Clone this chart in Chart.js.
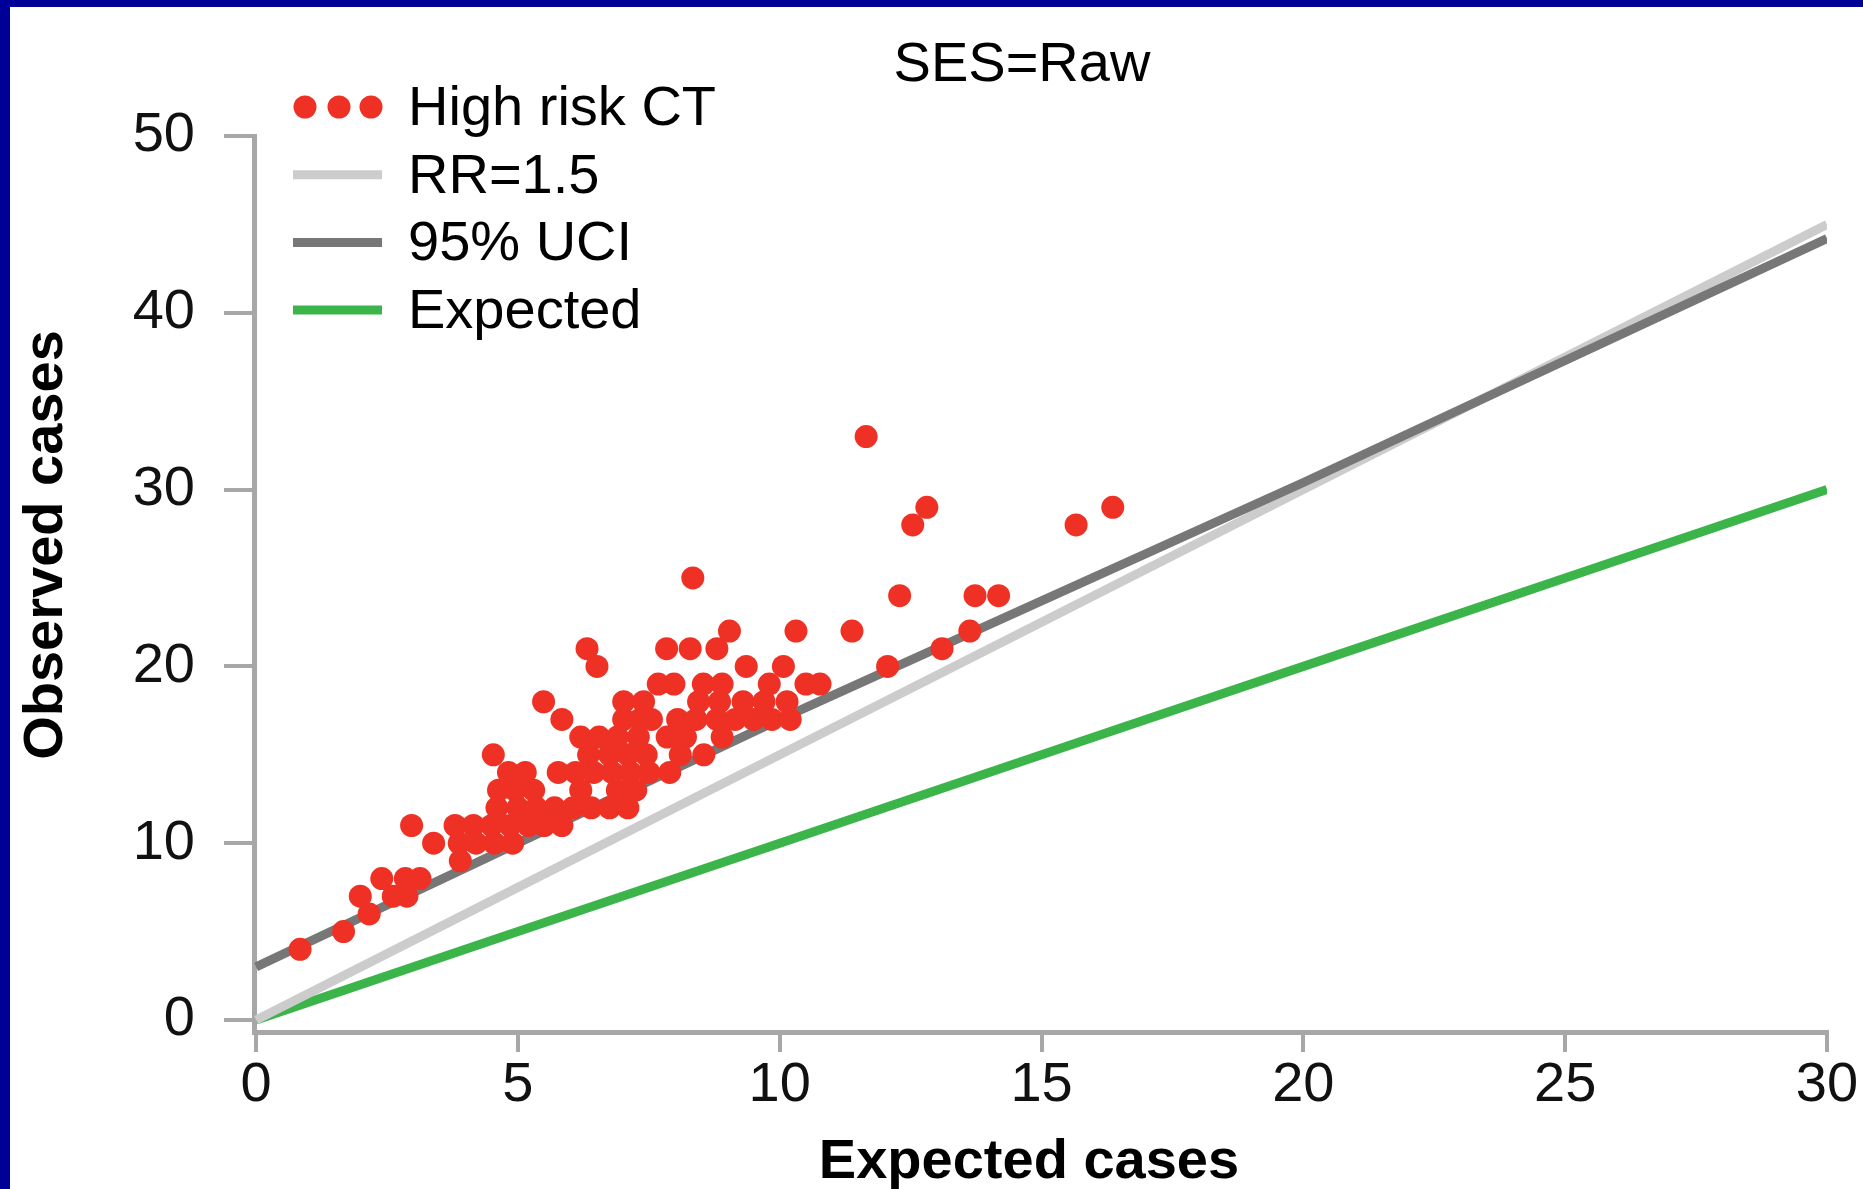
<!DOCTYPE html>
<html>
<head>
<meta charset="utf-8">
<title>SES=Raw</title>
<script src="https://cdn.jsdelivr.net/npm/chart.js@4.4.0/dist/chart.umd.min.js"></script>
<style>
  html, body { margin: 0; padding: 0; background: #000099; overflow: hidden; }
  #frame { position: absolute; left: 10px; top: 7px; width: 1853px; height: 1182px; background: #ffffff; }
</style>
</head>
<body>
<div id="frame"><canvas id="SesChart" width="1853" height="1182"></canvas></div>
<script>
// Tick labels of both axes
const xTicks = [0, 5, 10, 15, 20, 25, 30];
const yTicks = [0, 10, 20, 30, 40, 50];

// High risk census tracts, expected cases (x) and observed cases (y), one row of the plot per line
const highRiskExpected = [
  0.84,
  1.67,
  2.16,
  1.99, 2.62, 2.88,
  2.40, 2.85, 3.13,
  3.90,
  3.39, 3.88, 4.20, 4.55, 4.90,
  2.97, 3.80, 4.15, 4.50, 4.85, 5.20, 5.50, 5.84,
  4.60, 5.00, 5.35, 5.70, 6.05, 6.40, 6.75, 7.10,
  4.63, 4.95, 5.30, 6.20, 6.90, 7.25,
  4.82, 5.14, 5.77, 6.10, 6.45, 6.80, 7.15, 7.50, 7.90,
  4.53, 6.35, 6.75, 7.10, 7.45, 8.10, 8.55,
  6.20, 6.55, 6.90, 7.30, 7.85, 8.20, 8.90,
  5.84, 7.02, 7.33, 7.55, 8.05, 8.40, 8.80, 9.15, 9.50, 9.85, 10.20,
  5.49, 7.02, 7.40, 8.45, 8.85, 9.30, 9.70, 10.14,
  7.68, 7.98, 8.54, 8.90, 9.80, 10.50, 10.77,
  6.51, 9.36, 10.07, 12.06,
  6.32, 7.84, 8.29, 8.80, 13.10,
  9.04, 10.31, 11.38, 13.63,
  12.29, 13.73, 14.18,
  8.34,
  12.54, 15.66,
  12.81, 16.36,
  11.65
];
const highRiskObserved = [
  4,
  5,
  6,
  7, 7, 7,
  8, 8, 8,
  9,
  10, 10, 10, 10, 10,
  11, 11, 11, 11, 11, 11, 11, 11,
  12, 12, 12, 12, 12, 12, 12, 12,
  13, 13, 13, 13, 13, 13,
  14, 14, 14, 14, 14, 14, 14, 14, 14,
  15, 15, 15, 15, 15, 15, 15,
  16, 16, 16, 16, 16, 16, 16,
  17, 17, 17, 17, 17, 17, 17, 17, 17, 17, 17,
  18, 18, 18, 18, 18, 18, 18, 18,
  19, 19, 19, 19, 19, 19, 19,
  20, 20, 20, 20,
  21, 21, 21, 21, 21,
  22, 22, 22, 22,
  24, 24, 24,
  25,
  28, 28,
  29, 29,
  33
];

// Reference lines, read at the same expected values
const lineExpected = [0, 5, 10, 15, 20, 25, 30];
const rrValues = [0, 7.5, 15, 22.5, 30, 37.5, 45];
const uciValues = [3.0, 10.0, 17.0, 23.7, 30.4, 37.3, 44.2];
const expectedValues = [0, 5, 10, 15, 20, 25, 30];

// Legend entries in the order of the picture
const legendLabels = ["High risk CT", "RR=1.5", "95% UCI", "Expected"];

const colRed = "#ee3124";
const colLight = "#cccccc";
const colDark = "#777777";
const colGreen = "#3bb54a";
const colAxis = "#a7a7a7";
const fontFamily = '"Liberation Sans", Arial, Helvetica, sans-serif';

// Turns two arrays into the {x, y} points that Chart.js wants
function to_points(xs, ys) {
  return xs.map((x, i) => ({ x: x, y: ys[i] }));
}

// This plugin writes the title, the axis titles and the legend
const textPlugin = {
  id: "sesText",
  afterDraw(chart) {
    const ctx = chart.ctx;
    ctx.save();
    ctx.fillStyle = "#000000";
    ctx.textBaseline = "alphabetic";
    // The title of the panel
    ctx.font = "56px " + fontFamily;
    ctx.textAlign = "center";
    ctx.fillText("SES=Raw", 1012, 74);
    // The axis titles
    ctx.font = "bold 56px " + fontFamily;
    ctx.fillText("Expected cases", 1019, 1171);
    ctx.save();
    ctx.translate(52, 538);
    ctx.rotate(-Math.PI / 2);
    ctx.fillText("Observed cases", 0, 0);
    ctx.restore();
    // The legend at the top left
    const colors = [colRed, colLight, colDark, colGreen];
    ctx.font = "56px " + fontFamily;
    ctx.textAlign = "left";
    legendLabels.forEach((label, i) => {
      const base = 118 + i * 67.7;
      const mid = base - 18;
      if (i === 0) {
        // three dots for the points
        ctx.fillStyle = colRed;
        [295, 329, 361].forEach(cx => {
          ctx.beginPath();
          ctx.arc(cx, mid, 11.5, 0, Math.PI * 2);
          ctx.fill();
        });
      } else {
        ctx.strokeStyle = colors[i];
        ctx.lineWidth = 9;
        ctx.beginPath();
        ctx.moveTo(283, mid);
        ctx.lineTo(372, mid);
        ctx.stroke();
      }
      ctx.fillStyle = "#000000";
      ctx.fillText(label, 398, base);
    });
    ctx.restore();
  }
};

const contex = document.getElementById("SesChart").getContext("2d");
const chartSes = new Chart(contex, {
  type: "scatter",
  data: {
    datasets: [
      {
        // the points are drawn on top of the lines
        label: legendLabels[0],
        data: to_points(highRiskExpected, highRiskObserved),
        backgroundColor: colRed,
        borderWidth: 0,
        pointRadius: 11.5,
        pointHoverRadius: 11.5
      },
      {
        label: legendLabels[2],
        data: to_points(lineExpected, uciValues),
        showLine: true,
        borderColor: colDark,
        borderWidth: 9,
        pointRadius: 0
      },
      {
        label: legendLabels[1],
        data: to_points(lineExpected, rrValues),
        showLine: true,
        borderColor: colLight,
        borderWidth: 9,
        pointRadius: 0
      },
      {
        label: legendLabels[3],
        data: to_points(lineExpected, expectedValues),
        showLine: true,
        borderColor: colGreen,
        borderWidth: 9,
        pointRadius: 0
      }
    ]
  },
  options: {
    responsive: false,
    animation: false,
    events: [],
    layout: { padding: { top: 129, right: 36, left: 0, bottom: 0 } },
    plugins: {
      legend: { display: false },
      tooltip: { enabled: false },
      title: { display: false }
    },
    scales: {
      x: {
        type: "linear",
        min: -0.04,
        max: 30,
        afterBuildTicks: s => { s.ticks = xTicks.map(v => ({ value: v })); },
        afterFit: s => { s.height = 157; },
        grid: { drawOnChartArea: false, drawTicks: true, tickLength: 20, lineWidth: 4, color: colAxis },
        border: { display: true, color: colAxis, width: 5 },
        ticks: { padding: 0, maxRotation: 0, autoSkip: false, color: "#111111", font: { family: fontFamily, size: 56 } }
      },
      y: {
        type: "linear",
        min: -0.68,
        max: 50,
        afterBuildTicks: s => { s.ticks = yTicks.map(v => ({ value: v })); },
        afterFit: s => { s.width = 244; },
        grid: { drawOnChartArea: false, drawTicks: true, tickLength: 30, lineWidth: 4, color: colAxis },
        border: { display: true, color: colAxis, width: 5 },
        ticks: { padding: 29, autoSkip: false, color: "#111111", font: { family: fontFamily, size: 56 } }
      }
    }
  },
  plugins: [textPlugin]
});
</script>
</body>
</html>
